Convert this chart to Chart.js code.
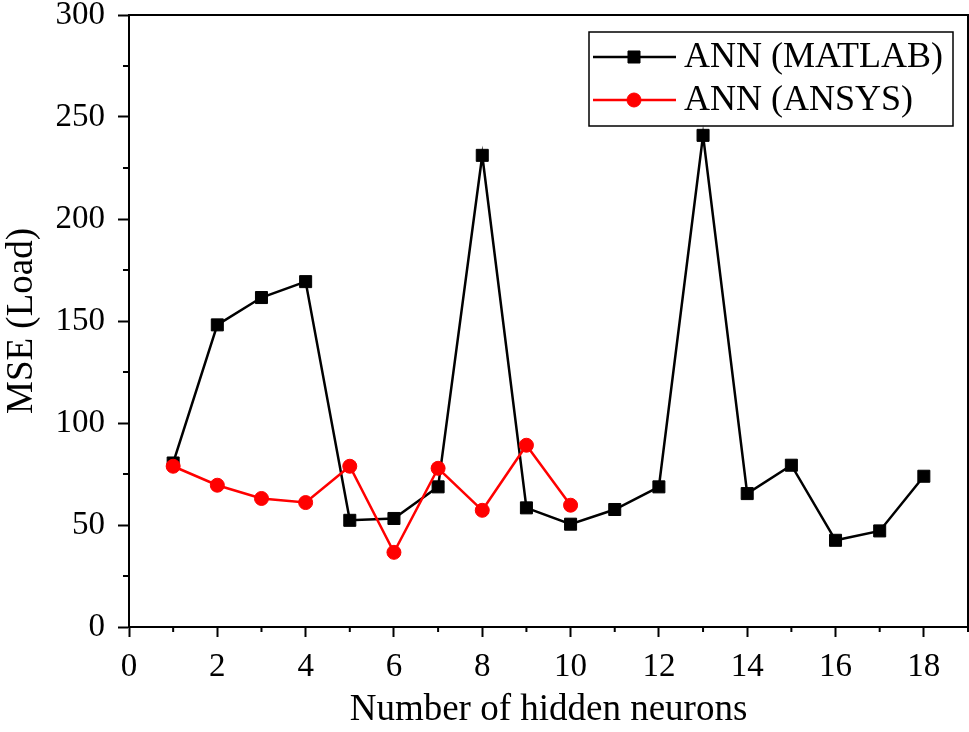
<!DOCTYPE html>
<html>
<head>
<meta charset="utf-8">
<script src="https://cdn.jsdelivr.net/npm/chart.js@4/dist/chart.umd.min.js"></script>
<style>
  html, body { margin: 0; padding: 0; background: #fff; }
  #wrap { width: 969px; height: 732px; }
</style>
</head>
<body>
<div id="wrap"><canvas id="chart" width="969" height="732"></canvas></div>
<script>
// ====== data ======
const matlabNeurons = [1, 2, 3, 4, 5, 6, 7, 8, 9, 10, 11, 12, 13, 14, 15, 16, 17, 18];
const matlabMSE = [80.4, 148.1, 161.5, 169.3, 52.3, 53.2, 68.7, 231.2, 58.4, 50.4, 57.6, 68.7, 241.0, 65.4, 79.3, 42.5, 47.1, 73.9];
const ansysNeurons = [1, 2, 3, 4, 5, 6, 7, 8, 9, 10];
const ansysMSE = [78.8, 69.5, 63.0, 61.0, 78.8, 36.6, 77.8, 57.2, 89.1, 59.7];
const seriesLabels = ["ANN (MATLAB)", "ANN (ANSYS)"];
const xTitle = "Number of hidden neurons";
const yTitle = "MSE (Load)";

const FONT = "'Liberation Serif', 'Times New Roman', serif";

function toPoints(xs, ys) {
  return xs.map((x, i) => ({ x: x, y: ys[i] }));
}

// box, minor ticks and the legend are drawn by hand
const framePlugin = {
  id: "frame",
  afterDraw(chart) {
    const ctx = chart.ctx;
    const area = chart.chartArea;
    const xs = chart.scales.x, ys = chart.scales.y;
    ctx.save();
    ctx.strokeStyle = "#000";
    ctx.lineWidth = 2;
    // top + right border
    ctx.beginPath();
    ctx.moveTo(area.left, area.top);
    ctx.lineTo(area.right, area.top);
    ctx.lineTo(area.right, area.bottom);
    ctx.stroke();
    // minor ticks
    ctx.beginPath();
    for (let v = 1; v <= 19; v += 2) {
      let px = xs.getPixelForValue(v);
      ctx.moveTo(px, area.bottom);
      ctx.lineTo(px, area.bottom + 5);
    }
    for (let v = 25; v < 300; v += 50) {
      let py = ys.getPixelForValue(v);
      ctx.moveTo(area.left, py);
      ctx.lineTo(area.left - 6, py);
    }
    ctx.stroke();

    // legend
    ctx.lineWidth = 1.5;
    ctx.strokeRect(589, 32, 364, 94);
    const rows = [57, 100];
    chart.data.datasets.forEach((ds, i) => {
      let y = rows[i];
      ctx.strokeStyle = ds.borderColor;
      ctx.fillStyle = ds.backgroundColor;
      ctx.lineWidth = 2.5;
      ctx.beginPath();
      ctx.moveTo(593, y);
      ctx.lineTo(676, y);
      ctx.stroke();
      ctx.lineWidth = 1;
      Chart.helpers.drawPoint(ctx, {
        pointStyle: ds.pointStyle, radius: ds.pointRadius, borderWidth: 1
      }, 634, y);
      ctx.fillStyle = "#000";
      ctx.font = "36px " + FONT;
      ctx.textBaseline = "alphabetic";
      ctx.textAlign = "left";
      ctx.fillText(ds.label, 684, y + 10);
    });
    ctx.restore();
  }
};

const chart = new Chart(document.getElementById("chart").getContext("2d"), {
  type: "line",
  data: {
    datasets: [
      {
        label: seriesLabels[0],
        data: toPoints(matlabNeurons, matlabMSE),
        borderColor: "#000",
        backgroundColor: "#000",
        borderWidth: 2.5,
        pointStyle: "rect",
        pointRadius: 8.5,
        pointBorderWidth: 1,
        tension: 0,
        order: 2
      },
      {
        label: seriesLabels[1],
        data: toPoints(ansysNeurons, ansysMSE),
        borderColor: "#ff0000",
        backgroundColor: "#ff0000",
        borderWidth: 2.5,
        pointStyle: "circle",
        pointRadius: 7,
        pointBorderWidth: 1,
        tension: 0,
        order: 1
      }
    ]
  },
  options: {
    responsive: false,
    animation: false,
    layout: { autoPadding: false, padding: { top: 15, right: 1, left: 0, bottom: 0 } },
    plugins: { legend: { display: false }, tooltip: { enabled: false } },
    scales: {
      x: {
        type: "linear",
        min: 0,
        max: 19,
        ticks: {
          stepSize: 1,
          autoSkip: false,
          maxRotation: 0,
          padding: 11,
          color: "#000",
          font: { family: FONT, size: 33 },
          callback: v => (v % 2 === 0 ? v : "")
        },
        grid: {
          drawOnChartArea: false,
          tickLength: 10,
          tickWidth: 2,
          tickColor: c => (c.tick && c.tick.value % 2 === 0 ? "#000" : "rgba(0,0,0,0)")
        },
        border: { color: "#000", width: 2 },
        title: {
          display: true,
          text: xTitle,
          color: "#000",
          font: { family: FONT, size: 37 },
          padding: { top: 0, bottom: 0 }
        },
        afterFit: s => { s.height = 105; s.paddingLeft = 0; s.paddingRight = 0; }
      },
      y: {
        min: 0,
        max: 300,
        ticks: {
          stepSize: 25,
          autoSkip: false,
          padding: 13,
          color: "#000",
          font: { family: FONT, size: 33 },
          callback: v => (v % 50 === 0 ? v : "")
        },
        grid: {
          drawOnChartArea: false,
          tickLength: 11,
          tickWidth: 2,
          tickColor: c => (c.tick && c.tick.value % 50 === 0 ? "#000" : "rgba(0,0,0,0)")
        },
        border: { color: "#000", width: 2 },
        title: {
          display: true,
          text: yTitle,
          color: "#000",
          font: { family: FONT, size: 37 },
          padding: { top: 0, bottom: 0 }
        },
        afterFit: s => { s.width = 129; s.paddingTop = 0; s.paddingBottom = 0; }
      }
    }
  },
  plugins: [framePlugin]
});
</script>
</body>
</html>
